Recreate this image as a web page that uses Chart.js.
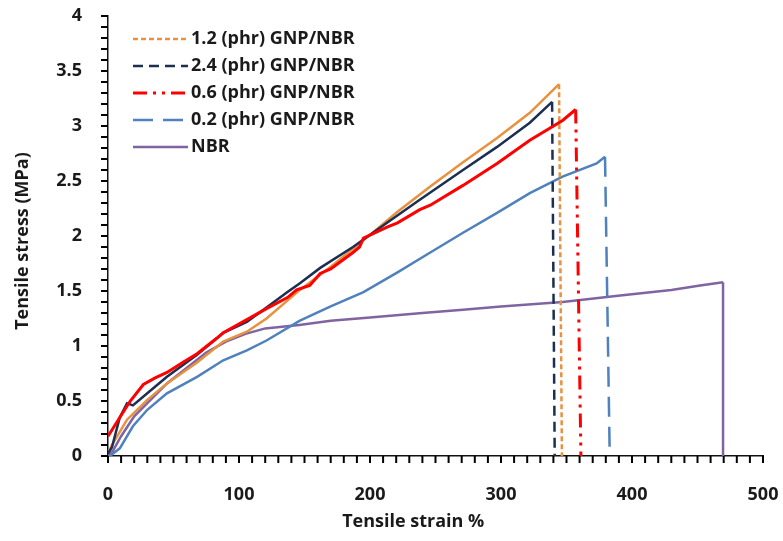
<!DOCTYPE html>
<html>
<head>
<meta charset="utf-8">
<title>Tensile stress-strain</title>
<script src="https://cdn.jsdelivr.net/npm/chart.js@4.4.1/dist/chart.umd.min.js"></script>
<style>
  html, body { margin: 0; padding: 0; background: #fff; }
  #wrap { width: 783px; height: 541px; }
</style>
</head>
<body>
<div id="wrap"><canvas id="stressStrainChart"></canvas></div>
<script>
/* global Chart:false */

// strain (%) and stress (MPa) readings per compound, last point = after break
var gnp12Strain = [0, 3, 14.5, 30, 45, 68, 88, 106, 121, 146.5, 170, 195, 221, 246, 271, 297, 322, 344.3, 346.5];
var gnp12Stress = [0.02, 0.1, 0.33, 0.51, 0.66, 0.85, 1.04, 1.13, 1.25, 1.51, 1.72, 1.96, 2.22, 2.45, 2.67, 2.89, 3.12, 3.38, 0];

var gnp24Strain = [0, 3, 9, 14.5, 19, 30, 45, 68, 88, 106, 121, 137, 146.5, 162, 187, 213, 238, 271, 297, 322, 339, 341];
var gnp24Stress = [0.02, 0.08, 0.35, 0.48, 0.46, 0.57, 0.72, 0.92, 1.12, 1.22, 1.35, 1.49, 1.57, 1.71, 1.9, 2.12, 2.33, 2.6, 2.81, 3.03, 3.22, 0];

var gnp06Strain = [0, 9, 17, 27, 36, 45, 57, 68, 83, 88, 106, 121, 137, 144, 154, 162, 170, 187, 192, 195, 213, 221, 238, 246, 271, 297, 322, 347, 357, 361];
var gnp06Stress = [0.18, 0.35, 0.5, 0.65, 0.71, 0.76, 0.85, 0.93, 1.07, 1.12, 1.24, 1.34, 1.44, 1.51, 1.55, 1.66, 1.7, 1.85, 1.9, 1.98, 2.08, 2.12, 2.24, 2.28, 2.46, 2.66, 2.87, 3.05, 3.15, 0];

var gnp02Strain = [1.5, 9, 19, 30, 45, 68, 88, 106, 121, 146.5, 170, 195, 221, 246, 271, 297, 322, 347, 373, 379.4, 383];
var gnp02Stress = [0, 0.07, 0.27, 0.42, 0.57, 0.72, 0.87, 0.96, 1.05, 1.23, 1.36, 1.49, 1.67, 1.85, 2.03, 2.21, 2.39, 2.54, 2.66, 2.72, 0];

var nbrStrain = [0, 3, 10, 20, 30, 45, 60, 75, 90, 105, 120, 146, 170, 200, 240, 271, 300, 347, 391, 430, 452, 469.5, 469.5];
var nbrStress = [0, 0.03, 0.18, 0.36, 0.48, 0.66, 0.8, 0.94, 1.04, 1.11, 1.16, 1.19, 1.23, 1.26, 1.3, 1.33, 1.36, 1.4, 1.46, 1.51, 1.55, 1.58, 0];

var seriesLabels = ["1.2 (phr) GNP/NBR", "2.4 (phr) GNP/NBR", "0.6 (phr) GNP/NBR", "0.2 (phr) GNP/NBR", "NBR"];

var strainTicks = [0, 100, 200, 300, 400, 500];
var stressTicks = [0, 0.5, 1, 1.5, 2, 2.5, 3, 3.5, 4];
var strainMinorStep = 10;
var stressMinorStep = 0.1;

var fontFamily = "'Open Sans', Lato, sans-serif";
var textColor = "#1a1a1a";
var axisColor = "#111";

function toPoints(xs, ys) {
  return xs.map(function (x, i) {
    return { x: x, y: ys[i] };
  });
}

function makeSeries(label, xs, ys, color, width, dash, order) {
  var last = xs.length - 1;
  return {
    label: label,
    data: toPoints(xs, ys),
    borderColor: color,
    backgroundColor: color,
    borderWidth: width,
    borderDash: dash,
    pointRadius: 0,
    pointHoverRadius: 0,
    tension: 0,
    order: order,
    segment: {
      // the rising curve is solid, only the fall after break uses the dash
      borderDash: function (ctx) {
        return ctx.p1DataIndex === last ? undefined : [];
      },
    },
  };
}

// drop the label overflow padding so the plot keeps its fixed box
function fixAxisBox(size) {
  return function (scale) {
    if (scale.isHorizontal()) {
      scale.height = size;
    } else {
      scale.width = size;
    }
    scale.paddingTop = 0;
    scale.paddingBottom = 0;
    scale.paddingLeft = 0;
    scale.paddingRight = 0;
  };
}

function strokeSegment(ctx, x1, y1, x2, y2) {
  ctx.beginPath();
  ctx.moveTo(x1, y1);
  ctx.lineTo(x2, y2);
  ctx.stroke();
}

// legend inside the plot, outward tick marks, axis titles
var annotations = {
  id: "annotations",
  afterDraw: function (chart) {
    var ctx = chart.ctx;
    var area = chart.chartArea;
    var xScale = chart.scales.x;
    var yScale = chart.scales.y;
    var i, px, py;
    ctx.save();
    ctx.font = "bold 18px " + fontFamily;
    ctx.textBaseline = "middle";
    chart.data.datasets.forEach(function (ds, k) {
      var y = area.top + 23 + k * 27;
      var x0 = area.left + 25;
      ctx.strokeStyle = ds.borderColor;
      ctx.lineWidth = ds.borderWidth;
      ctx.setLineDash(ds.borderDash);
      strokeSegment(ctx, x0, y, x0 + 55, y);
      ctx.setLineDash([]);
      ctx.fillStyle = textColor;
      ctx.textAlign = "left";
      ctx.fillText(ds.label, x0 + 58, y);
    });

    ctx.setLineDash([]);
    ctx.strokeStyle = "#000000";
    ctx.lineWidth = 2;
    ctx.lineCap = "butt";
    for (i = 0; i <= 50; i++) {
      px = area.left + ((i * strainMinorStep - xScale.min) / (xScale.max - xScale.min)) * area.width;
      strokeSegment(ctx, px, area.bottom, px, area.bottom + 7);
    }
    for (i = 0; i <= 40; i++) {
      py = area.bottom - ((i * stressMinorStep - yScale.min) / (yScale.max - yScale.min)) * area.height;
      strokeSegment(ctx, area.left - 7, py, area.left, py);
    }

    ctx.fillStyle = textColor;
    ctx.textAlign = "center";
    ctx.fillText("Tensile strain %", area.left + area.width * 0.466, 522);

    ctx.translate(23, (area.top + area.bottom) / 2 + 5);
    ctx.rotate(-Math.PI / 2);
    ctx.fillText("Tensile stress (MPa)", 0, 0);
    ctx.restore();
  },
};

var stressStrainChart = null;
function createChart() {
  var chartElement = document.getElementById("stressStrainChart");
  if (chartElement === null) return;
  var chartCtx = chartElement.getContext("2d");

  stressStrainChart = new Chart(chartCtx, {
    type: "line",
    data: {
      datasets: [
        makeSeries(seriesLabels[0], gnp12Strain, gnp12Stress, "#E8913F", 2.5, [5, 3], 2),
        makeSeries(seriesLabels[1], gnp24Strain, gnp24Stress, "#1C2F52", 2.5, [10, 6], 1),
        makeSeries(seriesLabels[2], gnp06Strain, gnp06Stress, "#FF0000", 3, [14, 6, 3, 6, 3, 6], 0),
        makeSeries(seriesLabels[3], gnp02Strain, gnp02Stress, "#4F81BD", 2.5, [20, 10], 3),
        makeSeries(seriesLabels[4], nbrStrain, nbrStress, "#8064A2", 2.5, [], 4),
      ],
    },
    options: {
      responsive: true,
      maintainAspectRatio: false,
      animation: false,
      events: [],
      layout: {
        autoPadding: false,
        padding: { top: 16, right: 20, bottom: 0, left: 0 },
      },
      plugins: {
        legend: { display: false },
        tooltip: { enabled: false },
      },
      scales: {
        x: {
          type: "linear",
          min: 0,
          max: 500,
          afterFit: fixAxisBox(85),
          border: { display: true, color: axisColor, width: 1.5 },
          grid: { display: false },
          ticks: {
            stepSize: 100,
            autoSkip: false,
            maxRotation: 0,
            padding: 20,
            color: textColor,
            font: { family: fontFamily, weight: "bold", size: 18 },
            callback: function (v) {
              return strainTicks.indexOf(v) !== -1 ? String(v) : "";
            },
          },
        },
        y: {
          type: "linear",
          min: 0,
          max: 4,
          afterFit: fixAxisBox(108),
          border: { display: true, color: axisColor, width: 1.5 },
          grid: { display: false },
          ticks: {
            stepSize: 0.5,
            autoSkip: false,
            padding: 18,
            color: textColor,
            font: { family: fontFamily, weight: "bold", size: 18 },
            callback: function (v) {
              var r = Math.round(v * 10) / 10;
              return stressTicks.indexOf(r) !== -1 ? String(r) : "";
            },
          },
        },
      },
    },
    plugins: [annotations],
  });
}

createChart();
</script>
</body>
</html>
